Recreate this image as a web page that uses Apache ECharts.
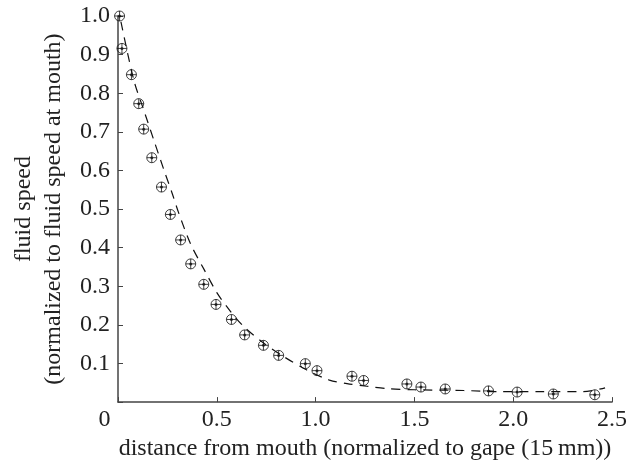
<!DOCTYPE html>
<html>
<head>
<meta charset="utf-8">
<script src="https://cdn.jsdelivr.net/npm/echarts@6/dist/echarts.min.js"></script>
<style>
    html, body { margin: 0; padding: 0; background: #fff; }
    #chart { width: 639px; height: 466px; }
</style>
</head>
<body>
<div id="chart"></div>
<script>
// measured points (distance, normalized speed)
const distance = [0.008, 0.02, 0.068, 0.105, 0.130, 0.171, 0.220, 0.265, 0.317, 0.368, 0.434, 0.496, 0.574, 0.641,
    0.736, 0.813, 0.948, 1.007, 1.184, 1.243, 1.462, 1.533, 1.656, 1.875, 2.020, 2.203, 2.413];
const speed = [1.0, 0.916, 0.848, 0.773, 0.707, 0.633, 0.557, 0.486, 0.420, 0.358, 0.305, 0.253, 0.214, 0.174,
    0.147, 0.121, 0.0996, 0.0815, 0.067, 0.056, 0.047, 0.039, 0.034, 0.029, 0.026, 0.021, 0.019];

// dashed model curve
const fitX = [0.015, 0.08, 0.13, 0.181, 0.232, 0.274, 0.307, 0.367, 0.434, 0.501, 0.569, 0.636, 0.737, 0.838,
    0.956, 1.07, 1.159, 1.26, 1.361, 1.5, 1.75, 1.93, 2.14, 2.355, 2.465];
const fitY = [0.985, 0.834, 0.757, 0.679, 0.602, 0.541, 0.49, 0.41, 0.345, 0.283, 0.235, 0.196, 0.153, 0.118,
    0.083, 0.057, 0.048, 0.041, 0.035, 0.032, 0.030, 0.027, 0.027, 0.027, 0.037];

const xTicks = [0, 0.5, 1.0, 1.5, 2.0, 2.5];
const yTicks = [0.1, 0.2, 0.3, 0.4, 0.5, 0.6, 0.7, 0.8, 0.9, 1.0];

const font = 'Liberation Serif';
const fs = 24;
const axisColor = '#444';

const chart = echarts.init(document.getElementById('chart'));

const option = {
    animation: false,
    grid: {
        left: 118,
        right: 27,
        top: 16,
        bottom: 63.5
    },
    xAxis: {
        type: 'value',
        min: xTicks[0],
        max: xTicks[xTicks.length - 1],
        interval: 0.5,
        name: 'distance from mouth (normalized to gape (15\u2009mm))',
        nameLocation: 'middle',
        nameGap: 34,
        nameTextStyle: { fontFamily: font, fontSize: fs, color: '#222' },
        axisLine: { lineStyle: { color: axisColor, width: 1.5 } },
        axisTick: { inside: true, length: 5, lineStyle: { color: axisColor } },
        splitLine: { show: false },
        axisLabel: {
            margin: 6,
            fontFamily: font,
            fontSize: fs,
            color: '#222',
            formatter: v => v === 0 ? '{z|0}' : v.toFixed(1),
            rich: { z: { fontFamily: font, fontSize: fs, color: '#222', padding: [0, 27, 0, 0] } }
        }
    },
    yAxis: {
        type: 'value',
        min: 0,
        max: yTicks[yTicks.length - 1],
        interval: 0.1,
        name: 'fluid speed\n(normalized to fluid speed at mouth)',
        nameLocation: 'middle',
        nameGap: 49,
        nameTextStyle: { fontFamily: font, fontSize: fs, color: '#222', lineHeight: 30 },
        axisLine: { show: true, lineStyle: { color: axisColor, width: 1.5 } },
        axisTick: { show: true, inside: true, length: 5, lineStyle: { color: axisColor } },
        splitLine: { show: false },
        axisLabel: {
            margin: 8,
            fontFamily: font,
            fontSize: fs,
            color: '#222',
            formatter: v => v === 0 ? '' : v.toFixed(1)
        }
    },
    series: [
        {
            type: 'line',
            data: fitX.map((x, i) => [x, fitY[i]]),
            smooth: 0.3,
            showSymbol: false,
            lineStyle: { color: '#111', width: 1.2, type: [9, 7] },
            z: 1
        },
        {
            type: 'scatter',
            data: distance.map((x, i) => [x, speed[i]]),
            symbol: 'path://M0,-10 A10,10 0 1,1 0,10 A10,10 0 1,1 0,-10 Z M-10,0 L10,0 M0,-10 L0,10',
            symbolSize: 10,
            itemStyle: { color: 'rgba(255,255,255,0)', borderColor: '#111', borderWidth: 1 },
            z: 3
        },
        {
            type: 'scatter',
            data: distance.map((x, i) => [x, speed[i]]),
            symbol: 'circle',
            symbolSize: 3,
            itemStyle: { color: '#111' },
            z: 4
        }
    ]
};

chart.setOption(option);
</script>
</body>
</html>
